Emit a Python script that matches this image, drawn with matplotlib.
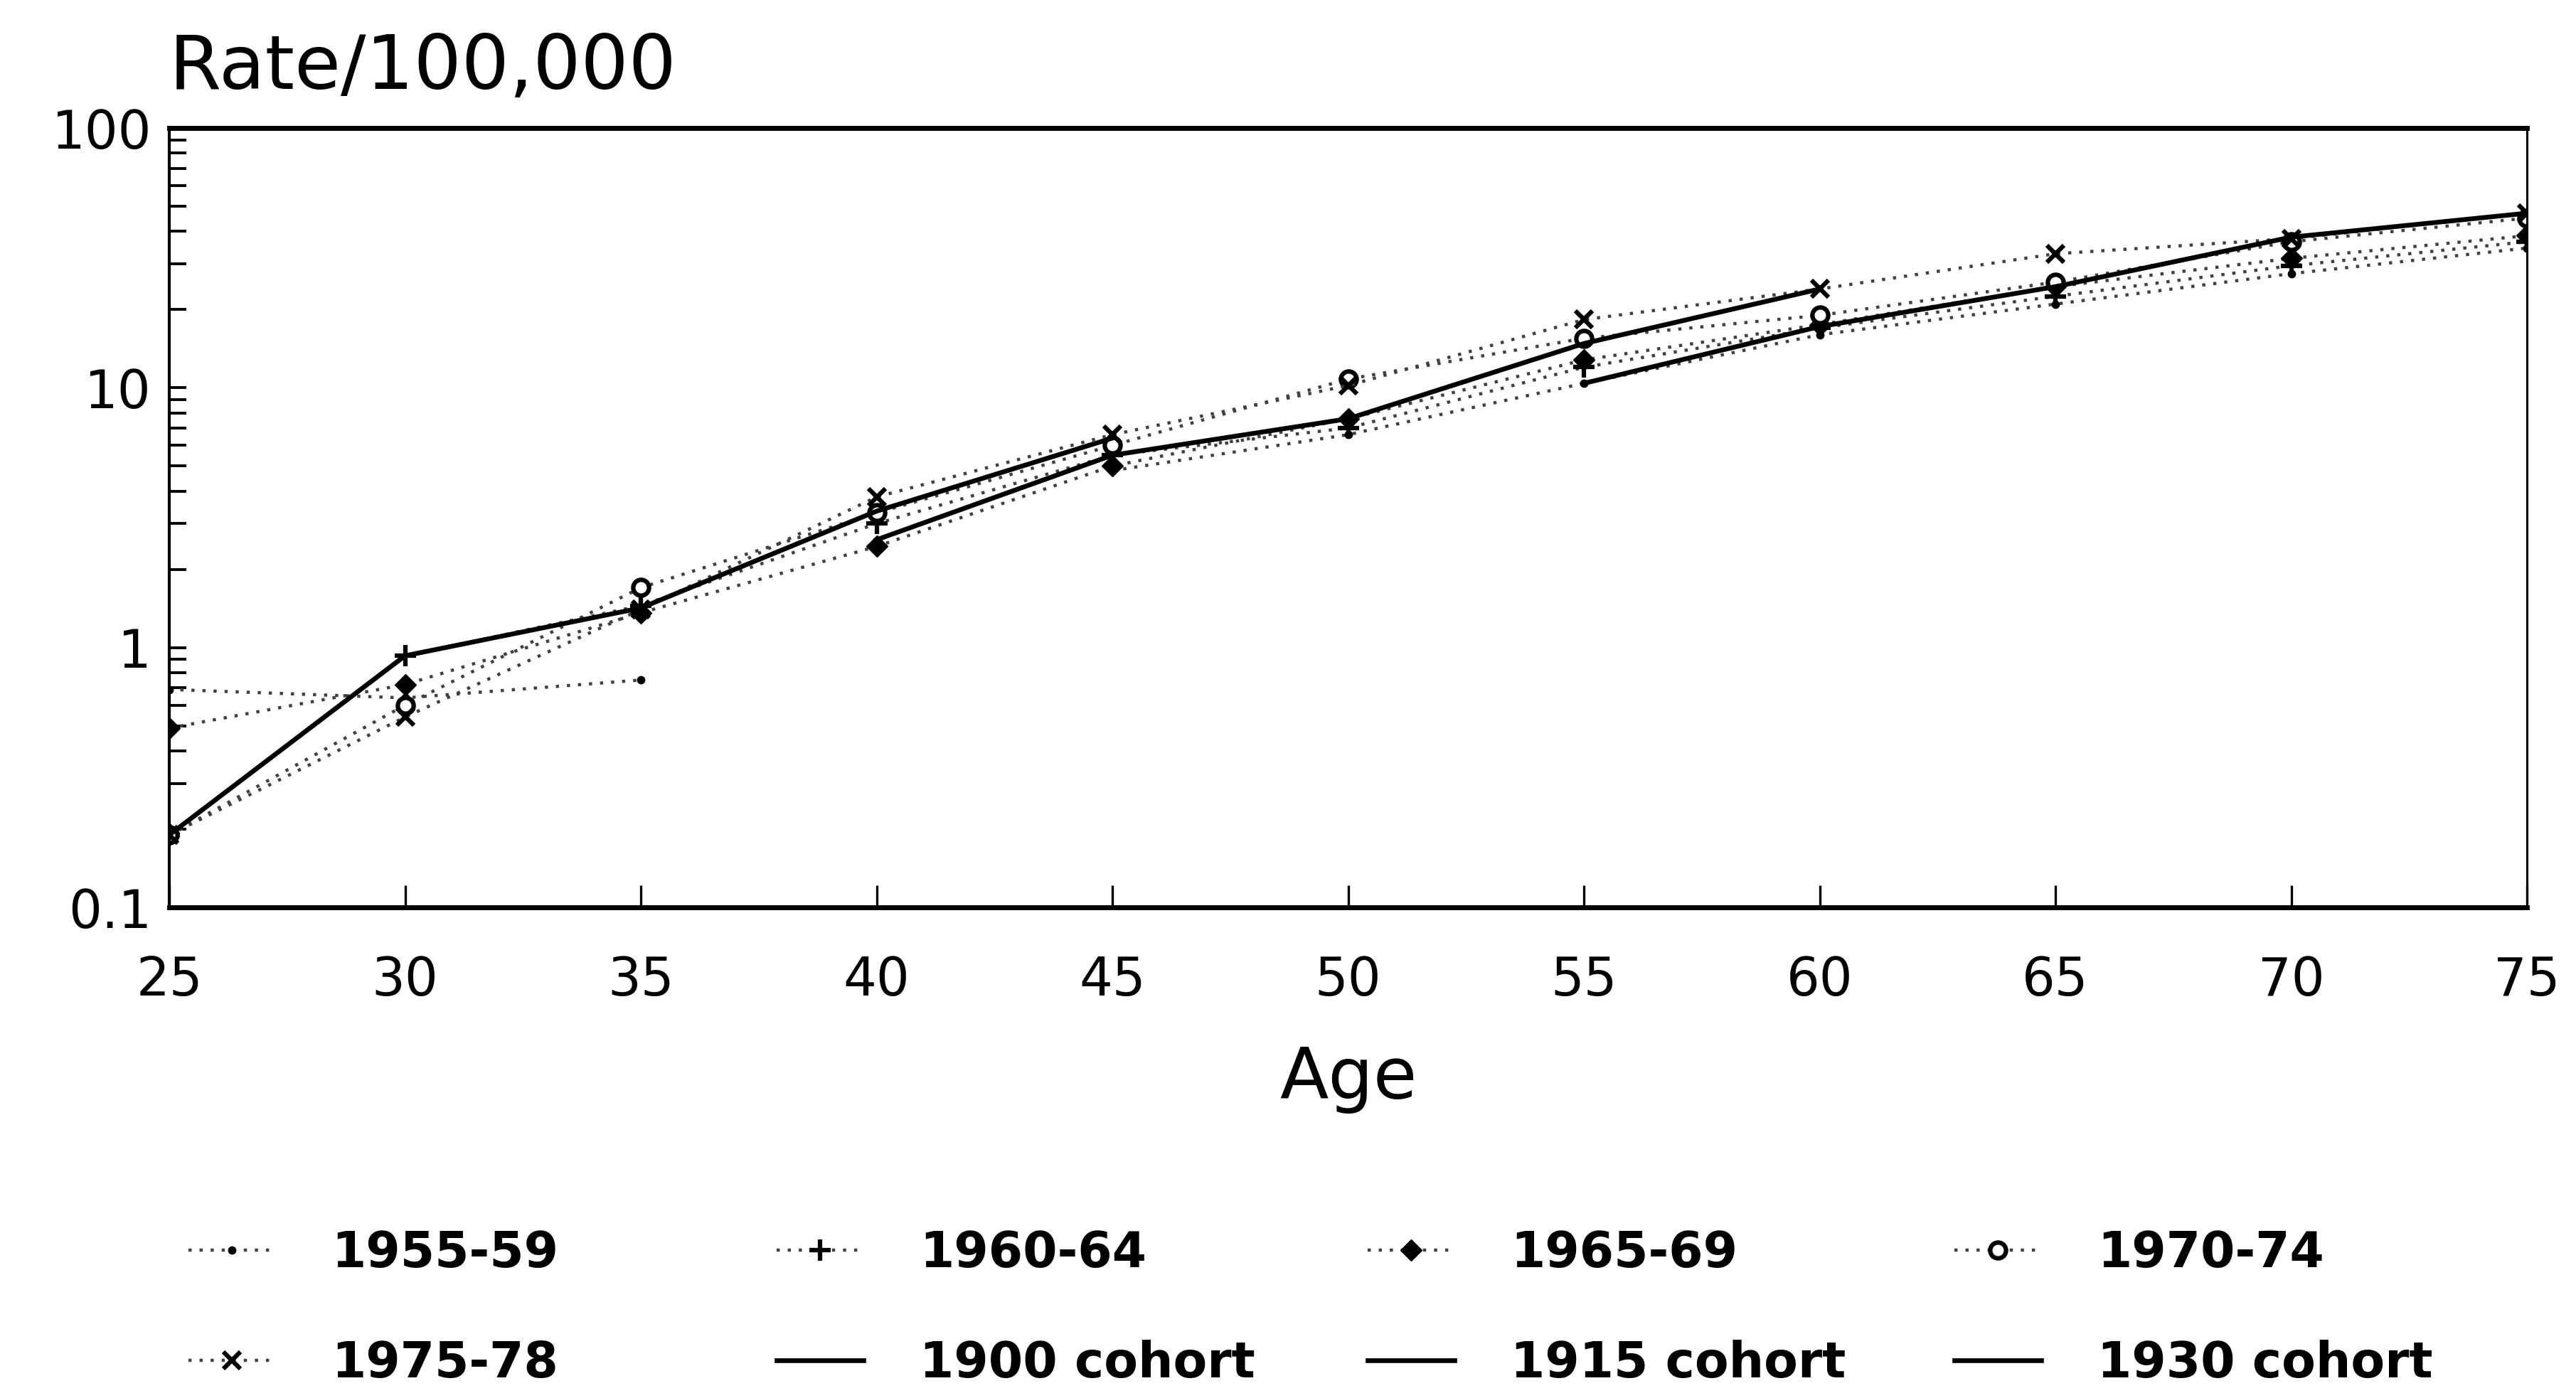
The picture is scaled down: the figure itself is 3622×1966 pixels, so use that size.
import numpy as np
import matplotlib.pyplot as plt
from matplotlib.ticker import NullFormatter

# age groups (x axis)
ages = [25, 30, 35, 40, 45, 50, 55, 60, 65, 70, 75]

# period series, rate per 100,000 by age (nan = not drawn)
period_labels = ['1955-59', '1960-64', '1965-69', '1970-74', '1975-78']
rate_1955_59 = [0.69, 0.64, 0.75, np.nan, 4.8, 6.6, 10.4, 16.0, 21.0, 27.5, 34.5]
rate_1960_64 = [0.19, 0.93, 1.45, 3.0, 5.5, 7.0, 12.0, 17.0, 22.5, 29.5, 36.5]
rate_1965_69 = [0.49, 0.72, 1.36, 2.45, 5.0, 7.6, 12.8, 17.5, 24.5, 31.5, 38.5]
rate_1970_74 = [0.19, 0.60, 1.70, 3.3, 6.0, 10.8, 15.5, 19.0, 25.5, 36.5, 45.0]
rate_1975_78 = [0.19, 0.54, 1.40, 3.8, 6.6, 10.2, 18.3, 24.0, 32.8, 37.5, 47.0]

# birth cohorts
cohort_labels = ['1900 cohort', '1915 cohort', '1930 cohort']
ages_1900 = [55, 60, 65, 70, 75]
rate_1900 = [10.4, 17.2, 24.5, 38.0, 47.0]
ages_1915 = [40, 45, 50, 55, 60]
rate_1915 = [2.6, 5.5, 7.6, 14.8, 24.0]
ages_1930 = [25, 30, 35, 40, 45]
rate_1930 = [0.19, 0.93, 1.42, 3.35, 6.4]

W, H = 3622, 1966
fig = plt.figure(figsize=(W / 100, H / 100), dpi=100)
ax = fig.add_axes([238 / W, 1 - 1276 / H, (3553 - 238) / W, (1276 - 180) / H])

period_rates = [rate_1955_59, rate_1960_64, rate_1965_69, rate_1970_74, rate_1975_78]
period_style = [
    dict(marker='.', markersize=15),
    dict(marker='+', markersize=21, markeredgewidth=4.5),
    dict(marker='D', markersize=15),
    dict(marker='o', markersize=16, markerfacecolor='white', markeredgewidth=4.5),
    dict(marker='x', markersize=17, markeredgewidth=4.5),
]
period_lines = []
for lab, rate, st in zip(period_labels, period_rates, period_style):
    ln, = ax.plot(ages, rate, color='0.25', linestyle=(0, (1, 2.5)), linewidth=3.2,
                  markeredgecolor='black', label=lab, **st)
    if st.get('markerfacecolor') is None:
        ln.set_markerfacecolor('black')
    period_lines.append(ln)

cohort_lines = []
for lab, a, r in zip(cohort_labels, [ages_1900, ages_1915, ages_1930],
                     [rate_1900, rate_1915, rate_1930]):
    ln, = ax.plot(a, r, color='black', linewidth=4.8, label=lab)
    cohort_lines.append(ln)

ax.set_yscale('log')
ax.set_xlim(25, 75)
ax.set_ylim(0.1, 100)
ax.set_xticks(ages)
ax.set_xticklabels([str(a) for a in ages])
ax.set_yticks([0.1, 1, 10, 100])
ax.set_yticklabels(['0.1', '1', '10', '100'])
ax.yaxis.set_minor_formatter(NullFormatter())

ax.tick_params(axis='x', which='both', direction='in', length=22, width=2.4,
               pad=48, labelsize=53, top=False)
ax.tick_params(axis='y', which='both', direction='in', length=17, width=2.8,
               pad=18, labelsize=53, right=False)

for side, lw in [('top', 5), ('bottom', 5), ('left', 3), ('right', 2.2)]:
    ax.spines[side].set_linewidth(lw)

ax.set_xlabel('Age', fontsize=72, va='center')
ax.xaxis.set_label_coords(0.5, -(1518 - 1276) / (1276 - 180))
ax.set_ylabel('Rate/100,000', fontsize=76, rotation=0, ha='left', va='baseline')
ax.yaxis.set_label_coords(0.0, 1.05)

# legend: four columns, two rows
columns = [
    (period_lines[0], period_lines[4]),
    (period_lines[1], cohort_lines[0]),
    (period_lines[2], cohort_lines[1]),
    (period_lines[3], cohort_lines[2]),
]
col_x = [265, 1092, 1923, 2748]
for x, hs in zip(col_x, columns):
    fig.legend(handles=list(hs), loc='center left',
               bbox_to_anchor=(x / W, 1 - 1840 / H), frameon=False,
               borderpad=0, borderaxespad=0, handlelength=1.75,
               handletextpad=1.15, labelspacing=1.27, numpoints=1,
               prop={'family': 'DejaVu Sans', 'weight': 'bold', 'size': 50})

fig.savefig('out.png', dpi=100, facecolor='white')
